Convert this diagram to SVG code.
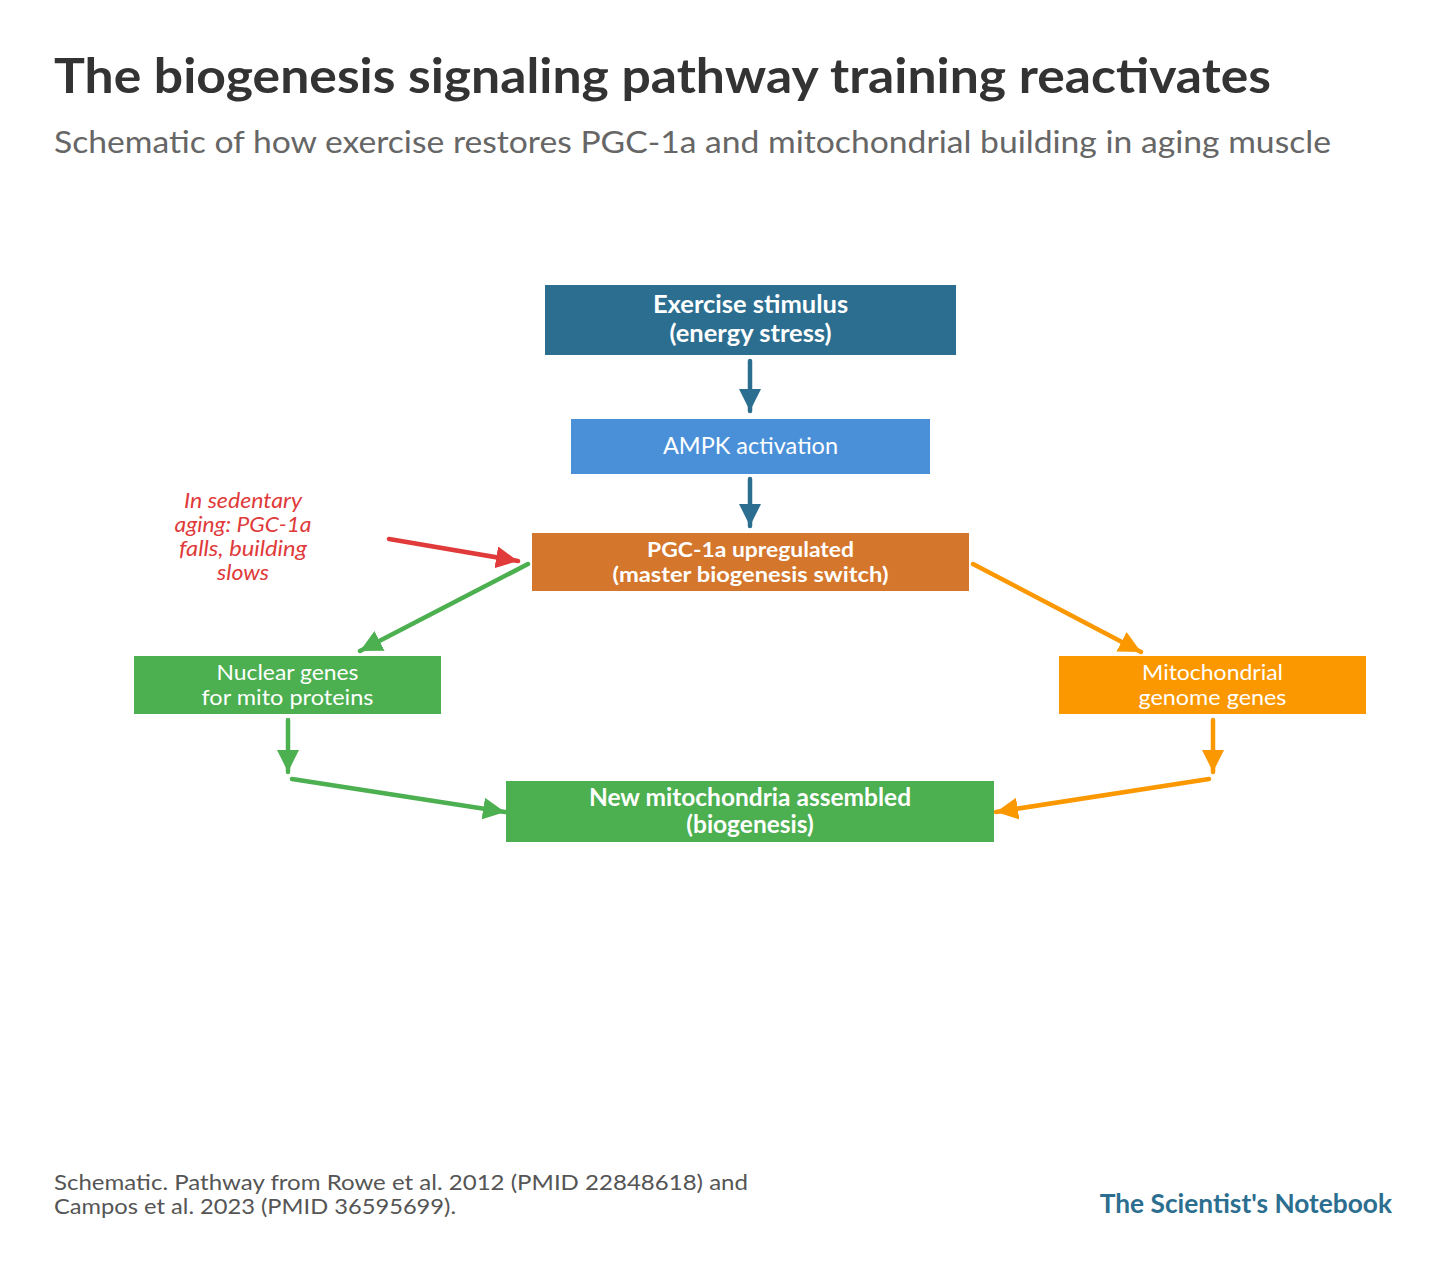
<svg xmlns="http://www.w3.org/2000/svg" width="1447" height="1273" viewBox="0 0 1447 1273">
<defs>
<style>
text{font-family:Lato,"Open Sans","Liberation Sans",sans-serif}
.title{font-size:48px;font-weight:700;fill:#333}
.sub{font-size:30px;fill:#666}
.nb{font-weight:700;fill:#fff;text-anchor:middle}
.nr{fill:#fff;text-anchor:middle}
.note{font-size:21px;font-style:italic;fill:#e03a3a;text-anchor:middle}
.foot{font-size:21px;fill:#555}
.brand{font-size:26.3px;font-weight:700;fill:#2c6e8f;text-anchor:end}
.c{fill:none;stroke-width:4.5;stroke-linecap:round}
</style>
<marker id="mb" viewBox="0 0 10 10" refX="10" refY="5" markerWidth="22" markerHeight="22" markerUnits="userSpaceOnUse" orient="auto"><path d="M0,0L10,5L0,10z" fill="#2c6e8f"/></marker>
<marker id="mr" viewBox="0 0 10 10" refX="10" refY="5" markerWidth="22" markerHeight="22" markerUnits="userSpaceOnUse" orient="auto"><path d="M0,0L10,5L0,10z" fill="#e03a3a"/></marker>
<marker id="mg" viewBox="0 0 10 10" refX="10" refY="5" markerWidth="22" markerHeight="22" markerUnits="userSpaceOnUse" orient="auto"><path d="M0,0L10,5L0,10z" fill="#4caf50"/></marker>
<marker id="mo" viewBox="0 0 10 10" refX="10" refY="5" markerWidth="22" markerHeight="22" markerUnits="userSpaceOnUse" orient="auto"><path d="M0,0L10,5L0,10z" fill="#fb9800"/></marker>
</defs>
<rect width="1447" height="1273" fill="#fff"/>
<text class="title" x="54" y="93" textLength="1217" lengthAdjust="spacingAndGlyphs">The biogenesis signaling pathway training reactivates</text>
<text class="sub" x="54" y="153" textLength="1277" lengthAdjust="spacingAndGlyphs">Schematic of how exercise restores PGC-1a and mitochondrial building in aging muscle</text>

<g id="connectors">
<line class="c" stroke="#2c6e8f" x1="750" y1="361" x2="750" y2="411" marker-end="url(#mb)"/>
<line class="c" stroke="#2c6e8f" x1="750" y1="479" x2="750" y2="526" marker-end="url(#mb)"/>
<line class="c" stroke="#e03a3a" x1="389" y1="539" x2="518" y2="561" marker-end="url(#mr)"/>
<line class="c" stroke="#4caf50" x1="528" y1="564" x2="360" y2="651" marker-end="url(#mg)"/>
<line class="c" stroke="#fb9800" x1="973" y1="564" x2="1141" y2="652" marker-end="url(#mo)"/>
<line class="c" stroke="#4caf50" x1="288" y1="720" x2="288" y2="772" marker-end="url(#mg)"/>
<line class="c" stroke="#4caf50" x1="292" y1="779" x2="505" y2="812" marker-end="url(#mg)"/>
<line class="c" stroke="#fb9800" x1="1213" y1="720" x2="1213" y2="772" marker-end="url(#mo)"/>
<line class="c" stroke="#fb9800" x1="1209" y1="779" x2="996" y2="812" marker-end="url(#mo)"/>
</g>

<g id="exercise">
<rect x="545" y="285" width="411" height="70" fill="#2c6e8f"/>
<text class="nb" x="750.5" y="313" font-size="25.5">Exercise stimulus</text>
<text class="nb" x="750.5" y="342" font-size="25.5">(energy stress)</text>
</g>
<g id="ampk">
<rect x="571" y="419" width="359" height="55" fill="#4a90d9"/>
<text class="nr" x="750.5" y="454" font-size="23.5">AMPK activation</text>
</g>
<g id="pgc">
<rect x="532" y="533" width="437" height="58" fill="#d4762c"/>
<text class="nb" x="750.5" y="557" font-size="21.5" textLength="207" lengthAdjust="spacingAndGlyphs">PGC-1a upregulated</text>
<text class="nb" x="750.5" y="582" font-size="21.5" textLength="276" lengthAdjust="spacingAndGlyphs">(master biogenesis switch)</text>
</g>
<g id="note">
<text class="note" x="243" y="508" textLength="118" lengthAdjust="spacingAndGlyphs">In sedentary</text>
<text class="note" x="243" y="532" textLength="137" lengthAdjust="spacingAndGlyphs">aging: PGC-1a</text>
<text class="note" x="243" y="556" textLength="128" lengthAdjust="spacingAndGlyphs">falls, building</text>
<text class="note" x="243" y="580" textLength="52" lengthAdjust="spacingAndGlyphs">slows</text>
</g>
<g id="nuclear">
<rect x="134" y="656" width="307" height="58" fill="#4caf50"/>
<text class="nr" x="287.5" y="680" font-size="21.5" textLength="142" lengthAdjust="spacingAndGlyphs">Nuclear genes</text>
<text class="nr" x="287.5" y="705" font-size="21.5" textLength="172" lengthAdjust="spacingAndGlyphs">for mito proteins</text>
</g>
<g id="mitogenome">
<rect x="1059" y="656" width="307" height="58" fill="#fb9800"/>
<text class="nr" x="1212.5" y="680" font-size="21.5" textLength="141" lengthAdjust="spacingAndGlyphs">Mitochondrial</text>
<text class="nr" x="1212.5" y="705" font-size="21.5" textLength="148" lengthAdjust="spacingAndGlyphs">genome genes</text>
</g>
<g id="newmito">
<rect x="506" y="781" width="488" height="61" fill="#4caf50"/>
<text class="nb" x="750" y="806" font-size="24.5">New mitochondria assembled</text>
<text class="nb" x="750" y="833" font-size="24.5">(biogenesis)</text>
</g>

<text class="foot" x="54" y="1190" textLength="694" lengthAdjust="spacingAndGlyphs">Schematic. Pathway from Rowe et al. 2012 (PMID 22848618) and</text>
<text class="foot" x="54" y="1214" textLength="402" lengthAdjust="spacingAndGlyphs">Campos et al. 2023 (PMID 36595699).</text>
<text class="brand" x="1392" y="1213">The Scientist's Notebook</text>
</svg>
